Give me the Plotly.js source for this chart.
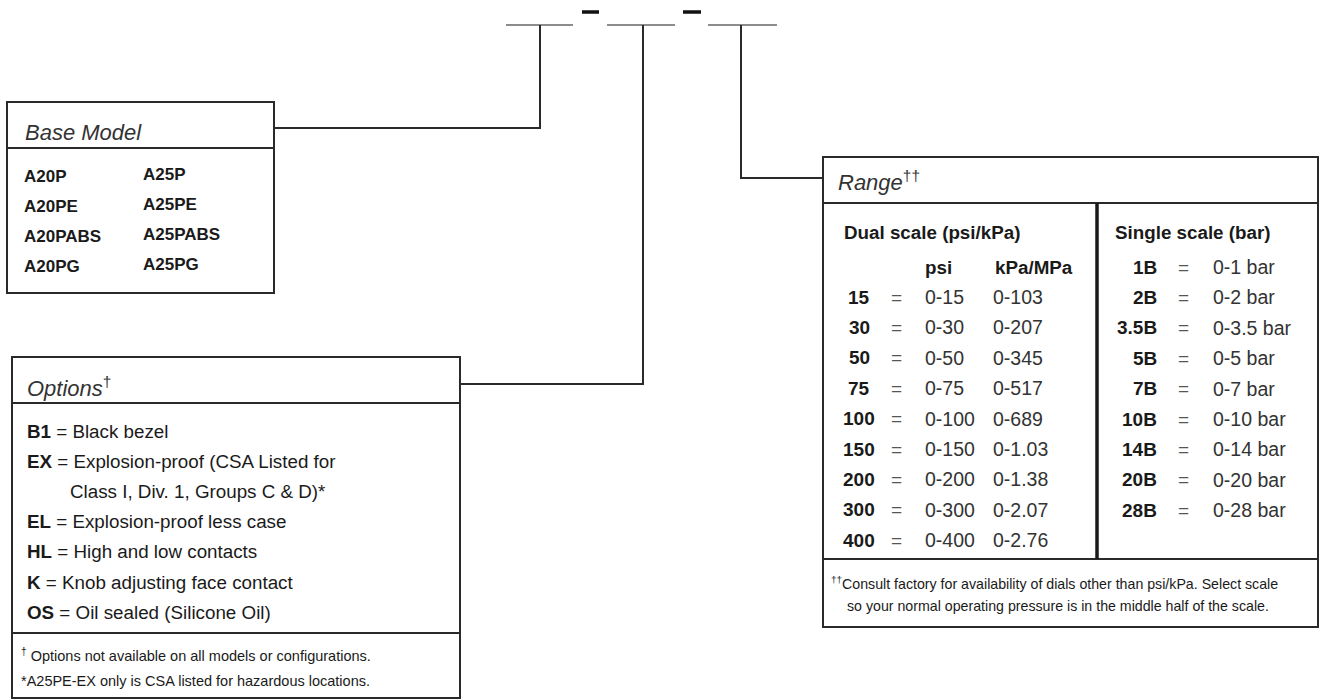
<!DOCTYPE html>
<html>
<head>
<meta charset="utf-8">
<script src="https://cdn.plot.ly/plotly-3.0.1.min.js"></script>
<style>html,body{margin:0;padding:0;background:#fff;}#chart{width:1322px;height:700px;}</style>
</head>
<body>
<div id="chart"></div>
<script>
// ---- data ----
const baseModelsA20 = ["A20P", "A20PE", "A20PABS", "A20PG"];
const baseModelsA25 = ["A25P", "A25PE", "A25PABS", "A25PG"];
const optionCodes = ["B1", "EX", "", "EL", "HL", "K", "OS"];
const optionDescs = ["Black bezel", "Explosion-proof (CSA Listed for", "Class I, Div. 1, Groups C &amp; D)*",
  "Explosion-proof less case", "High and low contacts", "Knob adjusting face contact", "Oil sealed (Silicone Oil)"];
const optionNotes = ["<sup>†</sup> Options not available on all models or configurations.",
  "*A25PE-EX only is CSA listed for hazardous locations."];
const dualCodes = ["15", "30", "50", "75", "100", "150", "200", "300", "400"];
const dualPsi = ["0-15", "0-30", "0-50", "0-75", "0-100", "0-150", "0-200", "0-300", "0-400"];
const dualKpa = ["0-103", "0-207", "0-345", "0-517", "0-689", "0-1.03", "0-1.38", "0-2.07", "0-2.76"];
const singleCodes = ["1B", "2B", "3.5B", "5B", "7B", "10B", "14B", "20B", "28B"];
const singleBar = ["0-1 bar", "0-2 bar", "0-3.5 bar", "0-5 bar", "0-7 bar", "0-10 bar", "0-14 bar", "0-20 bar", "0-28 bar"];
const rangeNotes = ["<sup>††</sup>Consult factory for availability of dials other than psi/kPa. Select scale",
  "so your normal operating pressure is in the middle half of the scale."];

// ---- layout helpers ----
const FONT = "Liberation Sans, Arial, sans-serif";
const TXT = "#1a1a1a";
const LINE = "#2a2a2a";
const annotations = [];
function txt(x, y, text, size, opts) {
  opts = opts || {};
  annotations.push({
    x: x, y: y, xref: "x", yref: "y", text: text, showarrow: false,
    xanchor: opts.xa || "left", yanchor: "middle",
    font: {family: FONT, size: size, color: opts.color || TXT}
  });
}
const shapes = [];
function ln(x0, y0, x1, y1, w, c) {
  shapes.push({type: "line", xref: "x", yref: "y", x0: x0, y0: y0, x1: x1, y1: y1,
    line: {color: c || LINE, width: w || 2}});
}
function rect(x0, y0, x1, y1) {
  shapes.push({type: "rect", xref: "x", yref: "y", x0: x0, y0: y0, x1: x1, y1: y1,
    line: {color: LINE, width: 2}, fillcolor: "rgba(0,0,0,0)"});
}
function path(p) {
  shapes.push({type: "path", xref: "x", yref: "y", path: p, line: {color: LINE, width: 2}});
}

// top code template
ln(506, 25, 573, 25, 2, "#8c8c8c");
ln(607, 25, 675, 25, 2, "#8c8c8c");
ln(708, 25, 777, 25, 2, "#8c8c8c");
ln(582, 12, 599, 12, 3.5, "#111");
ln(683, 12, 701, 12, 3.5, "#111");
path("M540,25 V128 H275");
path("M643,25 V384 H460");
path("M741,25 V178 H823");

// Base model box
rect(7, 102, 274, 293);
ln(7, 148, 274, 148);
txt(23, 132, "<i>Base Model</i>", 22, {color: "#333"});
baseModelsA20.forEach((m, i) => txt(22, 176 + i * 30, "<b>" + m + "</b>", 17));
baseModelsA25.forEach((m, i) => txt(141, 174 + i * 30, "<b>" + m + "</b>", 17));

// Options box
rect(12, 357, 460, 698);
ln(12, 403, 460, 403);
ln(12, 633, 460, 633);
txt(25, 387, "<i>Options</i><sup>†</sup>", 22, {color: "#333"});
optionCodes.forEach((c, i) => {
  const y = 431 + i * 30.2;
  if (c) txt(25, y, "<b>" + c + "</b> = " + optionDescs[i], 18.8);
  else txt(68, y, optionDescs[i], 18.8);
});
optionNotes.forEach((n, i) => txt(19, 655 + i * 26, n, 14.5));

// Range box
rect(823, 157, 1318, 627);
ln(823, 203, 1318, 203);
ln(823, 559, 1318, 559);
ln(1097, 203, 1097, 559, 3.5, "#1a1a1a");
txt(836, 181, "<i>Range</i><sup>††</sup>", 22, {color: "#333"});
txt(842, 232, "<b>Dual scale (psi/kPa)</b>", 18.8);
txt(1113, 232, "<b>Single scale (bar)</b>", 18.8);
txt(923, 267, "<b>psi</b>", 18.8);
txt(993, 267, "<b>kPa/MPa</b>", 18.8);
dualCodes.forEach((c, i) => {
  const y = 297 + i * 30.4;
  txt(859, y, "<b>" + c + "</b>", 19, {xa: "center"});
  txt(896, y, "=", 19, {xa: "center", color: "#555"});
  txt(923, y, dualPsi[i], 19.5, {color: "#333"});
  txt(991, y, dualKpa[i], 19.5, {color: "#333"});
});
singleCodes.forEach((c, i) => {
  const y = 267 + i * 30.4;
  txt(1159, y, "<b>" + c + "</b>", 19, {xa: "right"});
  txt(1183, y, "=", 19, {xa: "center", color: "#555"});
  txt(1211, y, singleBar[i], 19.5, {color: "#333"});
});
txt(829, 583, rangeNotes[0], 14.2);
txt(845, 606, rangeNotes[1], 14.2);

const layout = {
  width: 1322, height: 700,
  margin: {l: 0, r: 0, t: 0, b: 0, pad: 0},
  paper_bgcolor: "#fff", plot_bgcolor: "#fff",
  showlegend: false,
  xaxis: {range: [0, 1322], visible: false, fixedrange: true},
  yaxis: {range: [700, 0], visible: false, fixedrange: true},
  shapes: shapes,
  annotations: annotations
};
Plotly.newPlot("chart", [{x: [], y: [], type: "scatter", mode: "markers", hoverinfo: "skip"}], layout,
  {staticPlot: true, displayModeBar: false});
</script>
</body>
</html>
